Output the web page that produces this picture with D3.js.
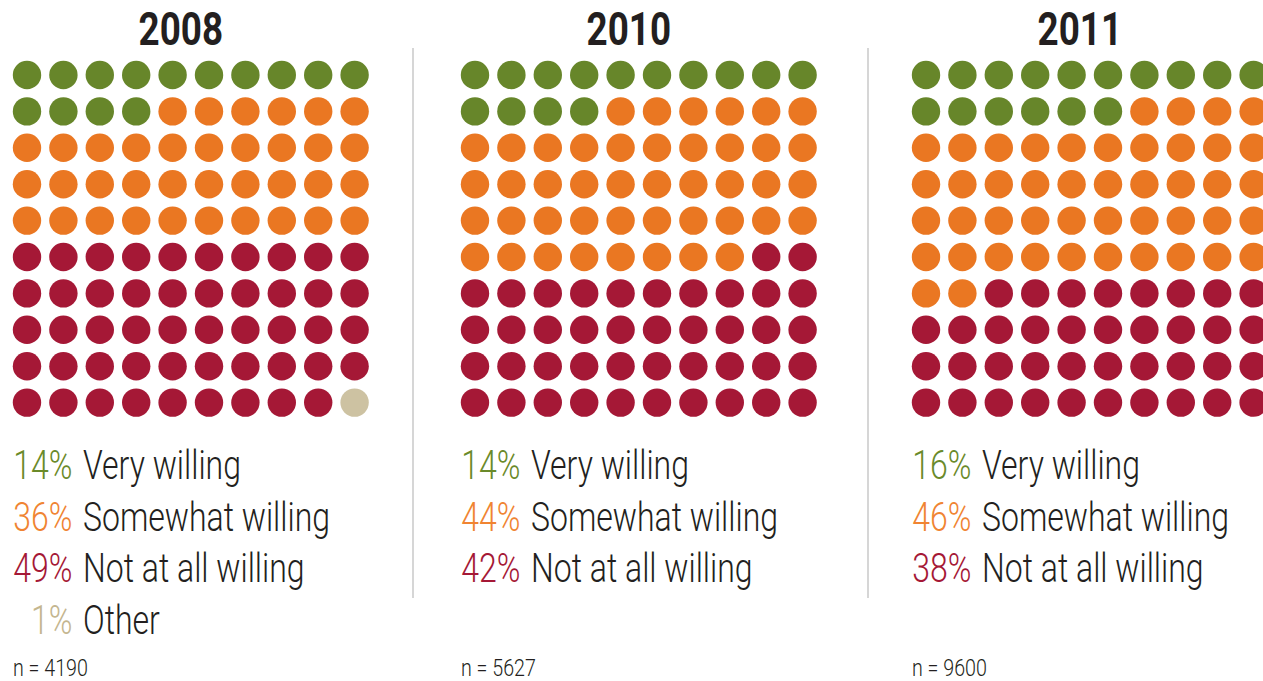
<!DOCTYPE html>
<html>
<head>
<meta charset="utf-8">
<script src="https://cdn.jsdelivr.net/npm/d3@7"></script>
<style>
  body { margin: 0; background: #fff; }
  text { font-family: Roboto, "Liberation Sans", sans-serif; }
</style>
</head>
<body>
<div id="chart"></div>
<script>
  var years = ["2008", "2010", "2011"];
  var categories = ["Very willing", "Somewhat willing", "Not at all willing", "Other"];
  var veryWilling = [14, 14, 16];
  var somewhatWilling = [36, 44, 46];
  var notWilling = [49, 42, 38];
  var other = [1, 0, 0];
  var sampleSizes = [4190, 5627, 9600];

  var w = 1263,
      h = 681,
      step = 36.4,
      r = 14.2,
      squeeze = 0.8; // fake a condensed face

  var dotColors = ["#67862a", "#ea7722", "#a51836", "#cdc2a2"];
  var pctColors = ["#6a8a2a", "#f08432", "#a51836", "#c4b68f"];

  var svg = d3.select("#chart").append("svg")
      .attr("width", w)
      .attr("height", h);

  function place(x, y, s) {
    return "translate(" + x + "," + y + ") scale(" + (s || squeeze) + ",1)";
  }

  // panel position per year, columns and rows inside each panel
  var panelX = d3.scaleOrdinal().domain(years).range([27, 475, 926]);
  var col = d3.scaleLinear().domain([0, 9]).range([0, 9 * step]);
  var row = d3.scaleLinear().domain([0, 9]).range([75, 75 + 9 * step]);
  var legendY = d3.scaleLinear().domain([0, 3]).range([479, 479 + 3 * 51.5]);

  // dividers between panels
  svg.selectAll("line.divider").data([413, 868])
    .enter().append("line")
    .attr("class", "divider")
    .attr("x1", function(d){ return d; })
    .attr("x2", function(d){ return d; })
    .attr("y1", 48)
    .attr("y2", 598)
    .attr("stroke", "#c8c8c8")
    .attr("stroke-width", 1.5);

  years.forEach(function(year, k) {
    var values = [veryWilling[k], somewhatWilling[k], notWilling[k], other[k]];
    var x0 = panelX(year);
    var g = svg.append("g").attr("transform", "translate(" + x0 + ",0)");

    // one dot per percent, filled row by row
    var dots = [];
    values.forEach(function(v, c) {
      for (var j = 0; j < v; j++) dots.push(c);
    });

    g.selectAll("circle").data(dots)
      .enter().append("circle")
      .attr("cx", function(d, i){ return col(i % 10); })
      .attr("cy", function(d, i){ return row(Math.floor(i / 10)); })
      .attr("r", r)
      .attr("fill", function(d){ return dotColors[d]; });

    g.append("text")
      .attr("transform", place(col(4.5) - 10, 44.5))
      .attr("text-anchor", "middle")
      .attr("font-size", 46)
      .attr("font-weight", "bold")
      .attr("fill", "#231f20")
      .text(year);

    var legend = values.map(function(v, c){ return {v: v, c: c}; })
      .filter(function(d){ return d.v > 0; });

    var items = g.selectAll("g.item").data(legend)
      .enter().append("g")
      .attr("class", "item")
      .attr("transform", function(d, i){ return "translate(0," + legendY(i) + ")"; });

    items.append("text")
      .attr("transform", place(45.5, 0))
      .attr("text-anchor", "end")
      .attr("font-size", 40)
      .attr("font-weight", 300)
      .attr("fill", function(d){ return pctColors[d.c]; })
      .text(function(d){ return d.v + "%"; });

    items.append("text")
      .attr("transform", place(56, 0))
      .attr("font-size", 40)
      .attr("font-weight", 300)
      .attr("fill", "#231f20")
      .text(function(d){ return categories[d.c]; });

    g.append("text")
      .attr("transform", place(-14, 676, 0.82))
      .attr("font-size", 24)
      .attr("font-weight", 300)
      .attr("fill", "#231f20")
      .text("n = " + sampleSizes[k]);
  });
</script>
</body>
</html>
